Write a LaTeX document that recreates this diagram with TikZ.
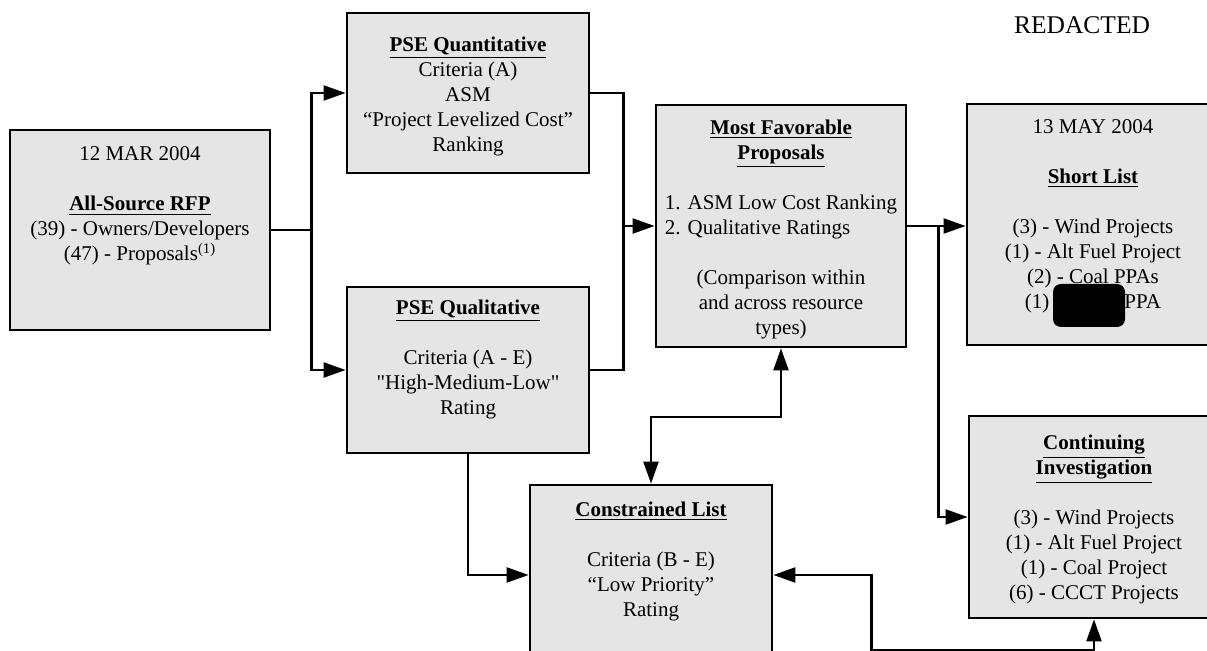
\documentclass[tikz,border=0pt]{standalone}
\usepackage{fontspec}
\setmainfont{Liberation Serif}
\usetikzlibrary{arrows.meta, positioning}
\newcommand{\boxtitle}[1]{\underline{\textbf{#1}}}

\begin{document}
\begin{tikzpicture}[x=0.5pt, y=-0.5pt,
      >={Triangle[length=11pt, width=7.5pt]},
      box/.style={rectangle, draw, line width=1.4pt, fill=gray!20, inner sep=0pt},
      txt/.style={align=center, inner sep=0pt, font=\fontsize{10.5}{12.5}\selectfont},
      conn/.style={line width=1.1pt}]
      \useasboundingbox (0,0) rectangle (1207,651);
      \clip (0,0) rectangle (1207,651);

      \node[font=\fontsize{12.75}{15}\selectfont] (redacted) at (1082,25) {REDACTED};

      % Boxes
      \node[box, minimum width=130pt, minimum height=100pt] (rfp) at (140,230) {};
      \node[box, minimum width=121pt, minimum height=80pt] (quant) at (468,93) {};
      \node[box, minimum width=121pt, minimum height=83pt] (qual) at (468,370) {};
      \node[box, minimum width=125pt, minimum height=121pt] (fav) at (781,226) {};
      \node[box, minimum width=126pt, minimum height=120.5pt] (short) at (1093,224.5) {};
      \node[box, minimum width=125pt, minimum height=101pt] (cont) at (1094,517) {};
      \node[box, minimum width=121pt, minimum height=90pt] (con) at (651,575) {};

      % Texts
      \node[txt, below=9pt of rfp.north] (rfptext) {12 MAR 2004\\[12.5pt]
        \boxtitle{All-Source RFP}\\ (39) - Owners/Developers\\ (47) - Proposals\textsuperscript{(1)}};
      \node[txt] (quanttext) at (468,96) {\boxtitle{PSE Quantitative}\\ Criteria (A)\\ ASM\\
        “Project Levelized Cost”\\ Ranking};
      \node[txt, below=7pt of qual.north] (qualtext) {\boxtitle{PSE Qualitative}\\[12.5pt]
        Criteria (A - E)\\ \textquotedbl High-Medium-Low\textquotedbl\\ Rating};
      \node[txt] (favtext) at (781,229.5) {\boxtitle{Most Favorable}\\ \boxtitle{Proposals}\\[12.5pt]
        1. ASM Low Cost Ranking\\
        \rlap{2. Qualitative Ratings}\phantom{1. ASM Low Cost Ranking}\\[12.5pt]
        (Comparison within\\ and across resource\\ types)};
      \node[txt] (shorttext) at (1093,216) {13 MAY 2004\\[12.5pt] \boxtitle{Short List}\\[12.5pt]
        (3) - Wind Projects\\ (1) - Alt Fuel Project\\ (2) - Coal PPAs\\ (1)\hspace{37.5pt}PPA};
      \node[txt] (conttext) at (1094,519.5) {\boxtitle{Continuing}\\ \boxtitle{Investigation}\\[12.5pt]
        (3) - Wind Projects\\ (1) - Alt Fuel Project\\ (1) - Coal Project\\ (6) - CCCT Projects};
      \node[txt, below=9pt of con.north] (context) {\boxtitle{Constrained List}\\[12.5pt]
        Criteria (B - E)\\ “Low Priority”\\ Rating};

      % redaction mark
      \fill[rounded corners=4pt] (1053,284) rectangle (1125,327);

      % Arrows
      \draw[conn, ->] (rfp.east) -- ++(40,0) coordinate (fork) |- (quant.west);
      \draw[conn, ->] (fork) |- (qual.west);
      \draw[conn, ->] (quant.east) -- ++(33,0) coordinate (join) |- (fav.west);
      \draw[conn] (qual.east) -- ++(33,0) -- (join |- fav.west);
      \draw[conn, ->] (fav.east) -- ++(31,0) coordinate (split) -- (short.west |- split);
      \draw[conn, ->] (split) |- (cont.west);
      \draw[conn, <->] (fav.south) -- ++(0,69) -| (con.north);
      \draw[conn, ->] (qual.south) |- (con.west);
      \draw[conn, <->] (con.east) -- ++(98,0) -- ++(0,75) -| (cont.south);
\end{tikzpicture}
\end{document}
